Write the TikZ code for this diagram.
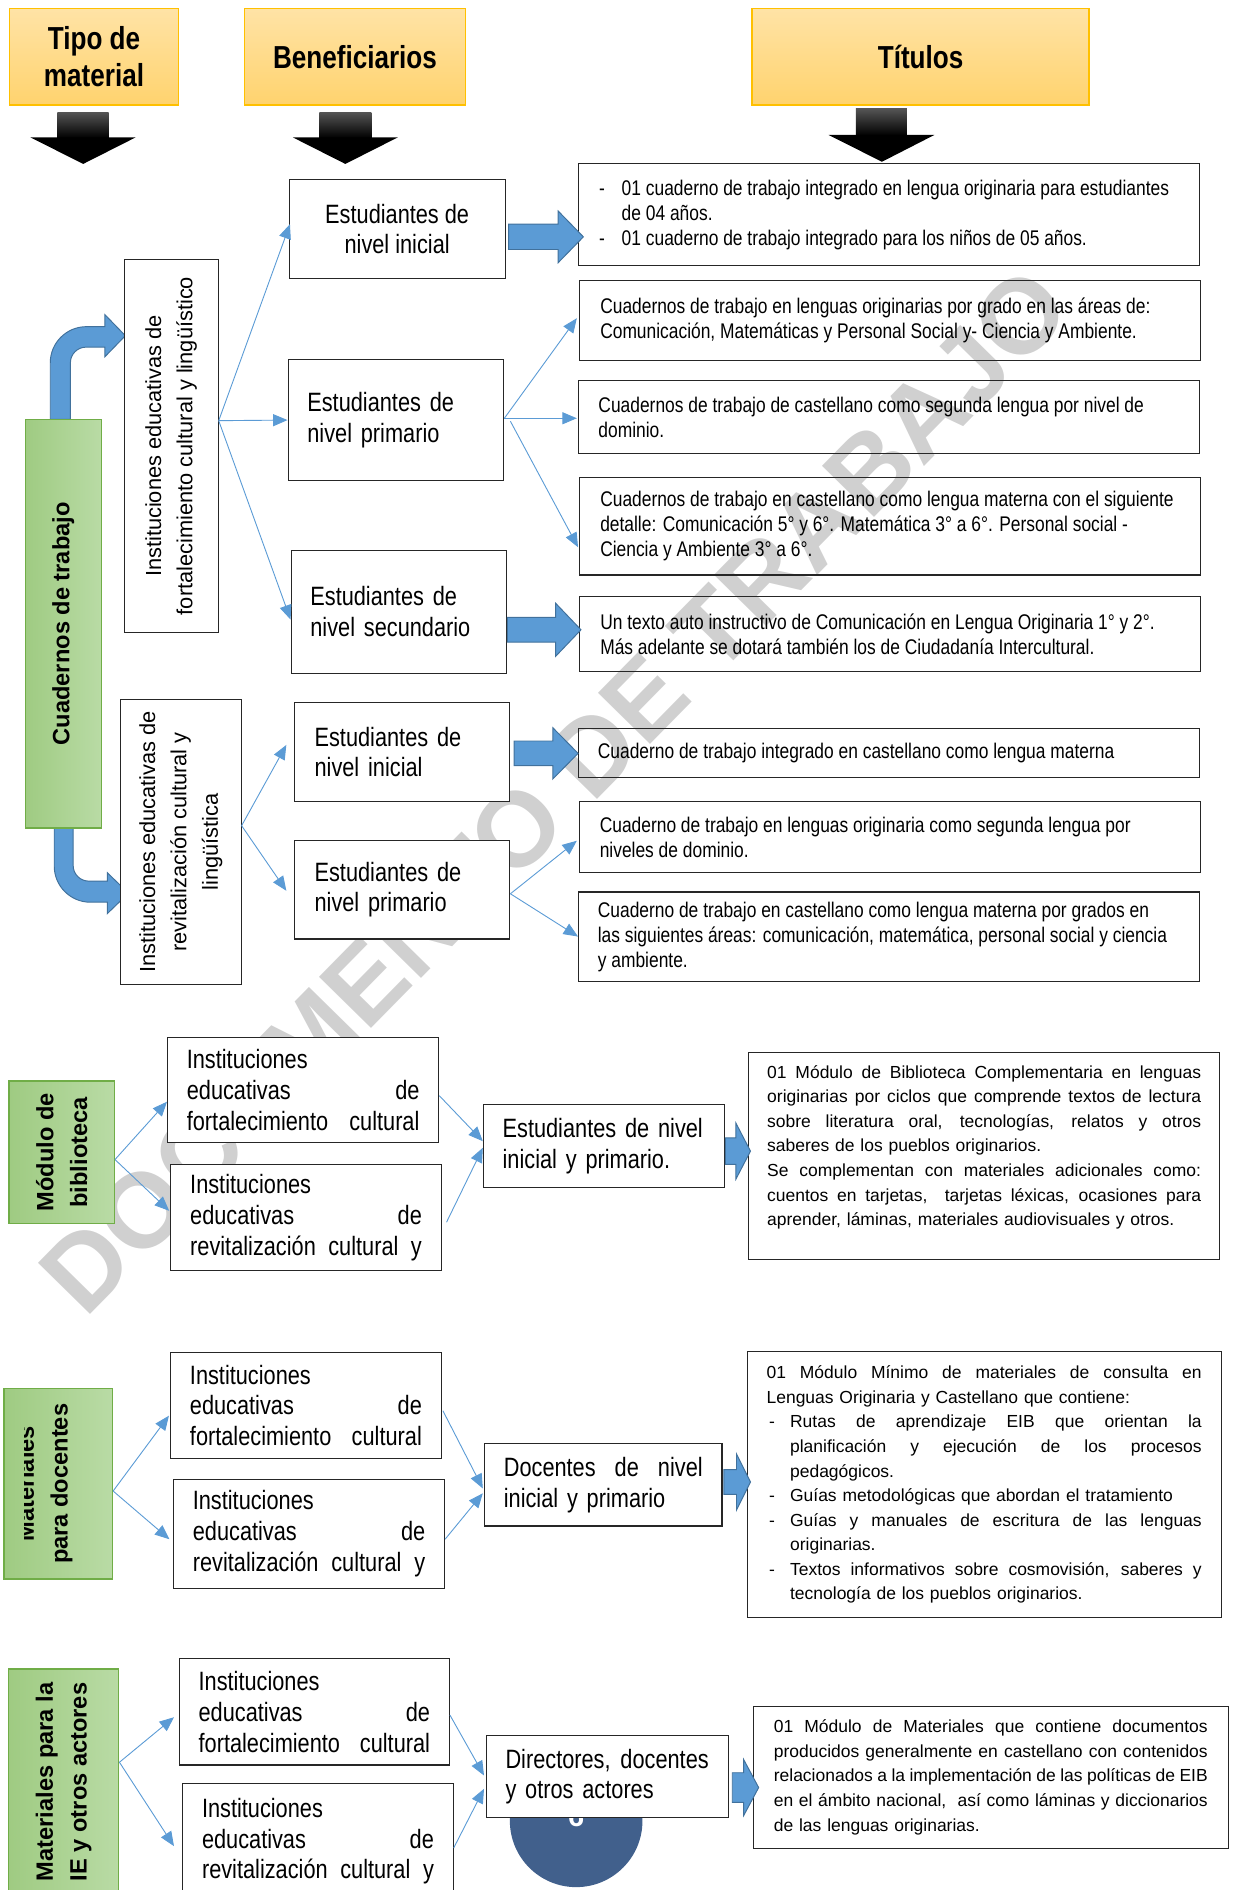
\documentclass[tikz,border=0pt]{standalone}
\usepackage{fontspec}
\setmainfont{Liberation Sans}
\newfontfamily\nar[FakeStretch=0.82]{Liberation Sans}
\usetikzlibrary{arrows.meta,calc}
\definecolor{ablue}{HTML}{5B9BD5}
\definecolor{adark}{HTML}{41719C}
\definecolor{hdrtop}{HTML}{FFE3A6}
\definecolor{hdrbot}{HTML}{FFD36E}
\definecolor{hdrline}{HTML}{FFC000}
\definecolor{grtop}{HTML}{B9DBA5}
\definecolor{grbot}{HTML}{9FCB82}
\definecolor{grline}{HTML}{70AD47}
\definecolor{wmark}{RGB}{208,208,208}
\definecolor{circ}{HTML}{41608C}
\definecolor{boxline}{HTML}{262626}
\definecolor{shafttop}{HTML}{555555}
\newcommand\ftT{\nar\fontsize{17.6}{20.7}\selectfont}
\newcommand\ftE{\nar\fontsize{22}{25.5}\selectfont}
\newcommand\ftH{\nar\bfseries\fontsize{26.4}{31}\selectfont}
\newcommand\ftG{\bfseries\fontsize{19.6}{28}\selectfont}
\newcommand\ftR{\fontsize{18.1}{26}\selectfont}
\newcommand\ftB{\fontsize{14.5}{20.4}\selectfont}
\newcommand\jl[1]{\makebox[\hsize][s]{\spaceskip=0pt\xspaceskip=0pt #1}}
\newcommand\lnx[1]{\mbox{\spaceskip=0pt\xspaceskip=0pt #1}}
\newcommand\dsh{\makebox[18.8pt][l]{-}}
\newcommand\jld[1]{\makebox[19.5pt][l]{\hspace{2pt}-}\makebox[\dimexpr\hsize-19.5pt\relax][s]{\spaceskip=0pt\xspaceskip=0pt #1}}
\newcommand\ind{\hspace*{19.5pt}}
\newcommand\barrow[6]{\filldraw[barr] (#1,#4-#5) -- (#2,#4-#5) -- (#2,#4-#6) -- (#3,#4) -- (#2,#4+#6) -- (#2,#4+#5) -- (#1,#4+#5) -- cycle;}
\tikzset{
  hdr/.style={draw=hdrline, line width=1.2pt, top color=hdrtop, bottom color=hdrbot, font=\ftH, align=center, inner sep=0pt},
  grnr/.style={draw=grline, line width=1.2pt, left color=grbot, right color=grtop, font=\ftG, align=center, inner sep=0pt, rotate=90},
  wbox/.style={draw=boxline, line width=0.9pt, fill=white, inner sep=0pt},
  tbox/.style={draw=boxline, line width=0.9pt, inner sep=0pt, align=left},
  conn/.style={draw=ablue, line width=0.75pt, -{Triangle[length=12pt,width=10pt]}},
  barr/.style={fill=ablue, draw=adark, line width=0.8pt},
  wh/.style 2 args={minimum width=#1pt, minimum height=#2pt},
}
\begin{document}
\begin{tikzpicture}[x=1pt,y=-1pt]
\useasboundingbox (0,0) rectangle (1025,1568);
% watermark
\node[rotate=45.5, anchor=base west, text=wmark, font=\bfseries\fontsize{88}{88}\selectfont, inner sep=0pt] (wm) at (71,1095) {DOCUMENTO DE TRABAJO};
% headers
\node[hdr, wh={140}{80}] (H1) at (78,47) {Tipo de\\material};
\node[hdr, wh={183}{80}] (H2) at (294.5,47) {Beneficiarios};
\node[hdr, wh={279.5}{80}] (H3) at (763.75,47) {Títulos};
\shade[top color=shafttop, bottom color=black] (47.6,93) rectangle (90.2,114.5);
\fill[black] (25.3,114) -- (112.5,114) -- (69,136) -- cycle;
\shade[top color=shafttop, bottom color=black] (265,93) rectangle (308,114.5);
\fill[black] (243,114) -- (330,114) -- (286.5,136) -- cycle;
\shade[top color=shafttop, bottom color=black] (710.1,89.9) rectangle (752.4,112.5);
\fill[black] (687.4,112) -- (775.1,112) -- (731.7,134.2) -- cycle;
% bent arrows
\filldraw[barr] (41.7,348) -- (41.7,301) arc[start angle=180, end angle=270, radius=30] -- (87,271) -- (87,261) -- (104,278.5) -- (87,296) -- (87,288) -- (71.4,288) arc[start angle=270, end angle=180, radius=13] -- (58.4,348) -- cycle;
\filldraw[barr] (45,687) -- (45,718.5) arc[start angle=180, end angle=90, radius=30] -- (89,748.5) -- (89,758) -- (106.6,741) -- (89,724) -- (89,731) -- (73.7,731) arc[start angle=90, end angle=180, radius=13] -- (60.7,687) -- cycle;
% section 1
\node[grnr, wh={339}{63}] (G1) at (52.5,517.5) {Cuadernos de trabajo};
\node[wbox, rotate=90, wh={310}{78}, font=\ftR, align=center] (I1) at (142,370) {Instituciones educativas de\\fortalecimiento cultural y lingüístico};
\node[wbox, rotate=90, wh={237}{100}, font=\ftR, align=center] (I2) at (150,698.5) {Instituciones educativas de\\revitalización cultural y\\lingüística};
\node[wbox, wh={179}{82}, font=\ftE, align=center] (E1) at (329.5,190) {Estudiantes de\\nivel inicial};
\node[wbox, wh={178.5}{101}, font=\ftE, align=left, text width=146.5pt, inner xsep=16pt] (E2) at (328.25,348.5) {Estudiantes de\\nivel primario};
\node[wbox, wh={179}{102}, font=\ftE, align=left, text width=147pt, inner xsep=16pt] (E3) at (331,507.5) {Estudiantes de\\nivel secundario};
\node[wbox, wh={179}{82}, font=\ftE, align=left, text width=145pt, inner xsep=17pt] (E4) at (333.5,624) {Estudiantes de\\nivel inicial};
\node[wbox, wh={179}{82}, font=\ftE, align=left, text width=145pt, inner xsep=17pt] (E5) at (333.5,738) {Estudiantes de\\nivel primario};
\node[tbox, wh={515}{84.5}, font=\ftT, text width=481pt, inner xsep=17pt] (T1) at (737.5,178.25) {\dsh\lnx{01 cuaderno de trabajo integrado en lengua originaria para estudiantes}\\\hspace*{18.8pt}\lnx{de 04 años.}\\\dsh\lnx{01 cuaderno de trabajo integrado para los niños de 05 años.}};
\node[tbox, wh={515}{66}, font=\ftT, text width=481pt, inner xsep=17pt] (T2) at (738.5,266) {\lnx{Cuadernos de trabajo en lenguas originarias por grado en las áreas de:}\\\lnx{Comunicación, Matemáticas y Personal Social y- Ciencia y Ambiente.}};
\node[tbox, wh={515}{60}, font=\ftT, text width=482pt, inner xsep=16.5pt] (T3) at (737.5,346) {\lnx{Cuadernos de trabajo de castellano como segunda lengua por nivel de}\\\lnx{dominio.}};
\node[tbox, wh={515}{81}, font=\ftT, text width=481pt, inner xsep=17pt] (T4) at (738.5,436.5) {\lnx{Cuadernos de trabajo en castellano como lengua materna con el siguiente}\\\lnx{detalle: Comunicación 5° y 6°. Matemática 3° a 6°. Personal social -}\\\lnx{Ciencia y Ambiente 3° a 6°.}};
\node[tbox, wh={515}{62}, font=\ftT, text width=481pt, inner xsep=17pt] (T5) at (738.5,526) {\lnx{Un texto auto instructivo de Comunicación en Lengua Originaria 1° y 2°.}\\\lnx{Más adelante se dotará también los de Ciudadanía Intercultural.}};
\node[tbox, wh={515}{41}, font=\ftT, text width=483pt, inner xsep=16pt] (T6) at (737.5,624.5) {\lnx{Cuaderno de trabajo integrado en castellano como lengua materna}};
\node[tbox, wh={515}{59}, font=\ftT, text width=481.8pt, inner xsep=16.6pt] (T7) at (738.5,694.5) {\lnx{Cuaderno de trabajo en lenguas originaria como segunda lengua por}\\\lnx{niveles de dominio.}};
\node[tbox, wh={515}{74}, font=\ftT, text width=483pt, inner xsep=16pt] (T8) at (737.5,777) {\lnx{Cuaderno de trabajo en castellano como lengua materna por grados en}\\\lnx{las siguientes áreas: comunicación, matemática, personal social y ciencia}\\\lnx{y ambiente.}};
\barrow{422}{463}{484}{196.5}{10.5}{21.5}
\barrow{421}{461}{482}{522.5}{10.25}{22}
\barrow{426.5}{458.6}{479.6}{625}{10.25}{21.3}
% section 2
\node[grnr, wh={118}{87.2}] (G2) at (51.2,956) {Módulo de\\biblioteca};
\node[wbox, wh={225}{87}, font=\ftE, align=left, text width=193pt, inner xsep=16pt] (BA) at (251.5,904.5) {Instituciones\\\jl{educativas de}\\\jl{fortalecimiento cultural}};
\node[wbox, wh={224.2}{88}, font=\ftE, align=left, text width=192.2pt, inner xsep=16pt] (BB) at (253.9,1010) {Instituciones\\\jl{educativas de}\\\jl{revitalización cultural y}};
\node[wbox, wh={200}{68.5}, font=\ftE, align=left, text width=168pt, inner xsep=16pt] (BE) at (501,950.75) {Estudiantes de nivel\\inicial y primario.};
\node[tbox, fill=white, wh={391}{172}, font=\ftB, text width=360pt, inner xsep=15.5pt] (BT) at (816.5,959) {\jl{01 Módulo de Biblioteca Complementaria en lenguas}\\\jl{originarias por ciclos que comprende textos de lectura}\\\jl{sobre literatura oral, tecnologías, relatos y otros}\\saberes de los pueblos originarios.\\\jl{Se complementan con materiales adicionales como:}\\\jl{cuentos en tarjetas,\ \ tarjetas léxicas, ocasiones para}\\aprender, láminas, materiales audiovisuales y otros.\\[-3pt]\mbox{}};
\barrow{601.7}{610.5}{622.6}{955}{11}{23.3}
% section 3
\node[grnr, wh={158}{90}] (G3) at (48.25,1231) {};
\begin{scope}
\clip (20,1152) rectangle (93,1310);
\node[rotate=90, font=\ftG, align=center, inner sep=0pt] (G3t) at (37,1231) {Materiales\\para docentes};
\end{scope}
\node[wbox, wh={224.4}{88}, font=\ftE, align=left, text width=192.4pt, inner xsep=16pt] (CA) at (253.8,1166) {Instituciones\\\jl{educativas de}\\\jl{fortalecimiento cultural}};
\node[wbox, wh={224.8}{90}, font=\ftE, align=left, text width=192.8pt, inner xsep=16pt] (CB) at (256.4,1272.5) {Instituciones\\\jl{educativas de}\\\jl{revitalización cultural y}};
\node[wbox, wh={197}{68.3}, font=\ftE, align=left, text width=165pt, inner xsep=16pt] (CD) at (500.5,1231.85) {\jl{Docentes de nivel}\\inicial y primario};
\node[tbox, fill=white, wh={393}{220.5}, font=\ftB, text width=361pt, inner xsep=16pt] (CT) at (816.5,1231.75) {\jl{01 Módulo Mínimo de materiales de consulta en}\\Lenguas Originaria y Castellano que contiene:\\\jld{Rutas de aprendizaje EIB que orientan la}\\\ind\makebox[\dimexpr\hsize-19.5pt\relax][s]{\spaceskip=0pt\xspaceskip=0pt planificación y ejecución de los procesos}\\\ind pedagógicos.\\\makebox[19.5pt][l]{\hspace{2pt}-}Guías metodológicas que abordan el tratamiento\\\jld{Guías y manuales de escritura de las lenguas}\\\ind originarias.\\\jld{Textos informativos sobre cosmovisión, saberes y}\\\ind tecnología de los pueblos originarios.};
\barrow{600.5}{611}{622.6}{1229.5}{10.2}{23.2}
% section 4
\node[circle, fill=circ, minimum size=110pt, inner sep=0pt] (pg) at (478,1510.6) {};
\node[text=white, font=\bfseries\fontsize{24}{24}\selectfont, anchor=base, inner sep=0pt] (pgn) at (478,1515) {6};
\node[grnr, wh={187.4}{91.3}] (G4) at (52.85,1478.3) {Materiales para la\\IE y otros actores};
\node[wbox, wh={224}{88.3}, font=\ftE, align=left, text width=192pt, inner xsep=16pt] (DA) at (260.8,1420.15) {Instituciones\\\jl{educativas de}\\\jl{fortalecimiento cultural}};
\node[wbox, wh={224.4}{95}, font=\ftE, align=left, text width=192.4pt, inner xsep=16pt] (DB) at (263.8,1527.5) {Instituciones\\\jl{educativas de}\\\jl{revitalización cultural y}};
\node[wbox, wh={200.6}{68}, font=\ftE, align=left, text width=168.6pt, inner xsep=16pt] (DD) at (503.7,1474) {\jl{Directores, docentes}\\y otros actores};
\node[tbox, fill=white, wh={394}{118}, font=\ftB, text width=360pt, inner xsep=17pt] (DT) at (822,1474.5) {\jl{01 Módulo de Materiales que contiene documentos}\\\jl{producidos generalmente en castellano con contenidos}\\\jl{relacionados a la implementación de las políticas de EIB}\\\jl{en el ámbito nacional,\ \ así como láminas y diccionarios}\\de las lenguas originarias.};
\barrow{607.5}{617}{629.4}{1483}{12.3}{23.2}
% thin connectors
\draw[conn] ($(I1.south)+(0,-21)$) -- ($(E1.west)+(1,-4)$);
\draw[conn] ($(I1.south)+(0,-21)$) -- (E2.west);
\draw[conn] ($(I1.south)+(0,-21)$) -- ($(E3.west)+(0,6.5)$);
\draw[conn] ($(E2.east)+(0.5,-1.5)$) -- ($(T2.west)+(-2,-2)$);
\draw[conn] ($(E2.east)+(0.5,-1.5)$) -- ($(T3.west)+(-1,1)$);
\draw[conn] ($(E2.east)+(5.5,1)$) -- ($(T4.west)+(-1,17.5)$);
\draw[conn] ($(I2.south)+(0,-13.5)$) -- ($(E4.west)+(-6,-6)$);
\draw[conn] ($(I2.south)+(0,-13.5)$) -- ($(E5.west)+(-6,1)$);
\draw[conn] ($(E5.east)+(0,3.5)$) -- ($(T7.west)+(-2,3)$);
\draw[conn] ($(E5.east)+(0,3.5)$) -- (T8.west);
\draw[conn] ($(G2.south)+(0,6)$) -- ($(BA.west)+(0,9.5)$);
\draw[conn] ($(G2.south)+(0,6)$) -- ($(BB.west)+(-1,-5.5)$);
\draw[conn] ($(BA.east)+(0,4.5)$) -- ($(BE.west)+(0,-4)$);
\draw[conn] ($(BB.east)+(4,4)$) -- ($(BE.west)+(0,1.5)$);
\draw[conn] ($(G3.south)+(0,6)$) -- ($(CA.west)+(-1,8.5)$);
\draw[conn] ($(G3.south)+(0,6)$) -- ($(CB.west)+(-3,4.5)$);
\draw[conn] ($(CA.east)+(1,4.4)$) -- ($(CD.west)+(-1,3)$);
\draw[conn] ($(CB.east)+(0,4.5)$) -- ($(CD.west)+(-1,7)$);
\draw[conn] ($(G4.south)+(0,-16.3)$) -- ($(DA.west)+(-4,4.5)$);
\draw[conn] ($(G4.south)+(0,-16.3)$) -- ($(DB.west)+(-6.8,4.1)$);
\draw[conn] ($(DA.east)+(0,2.65)$) -- ($(DD.west)+(-1.4,-1)$);
\draw[conn] ($(DB.east)+(0,5.5)$) -- ($(DD.west)+(-1.4,10)$);
\end{tikzpicture}
\end{document}
